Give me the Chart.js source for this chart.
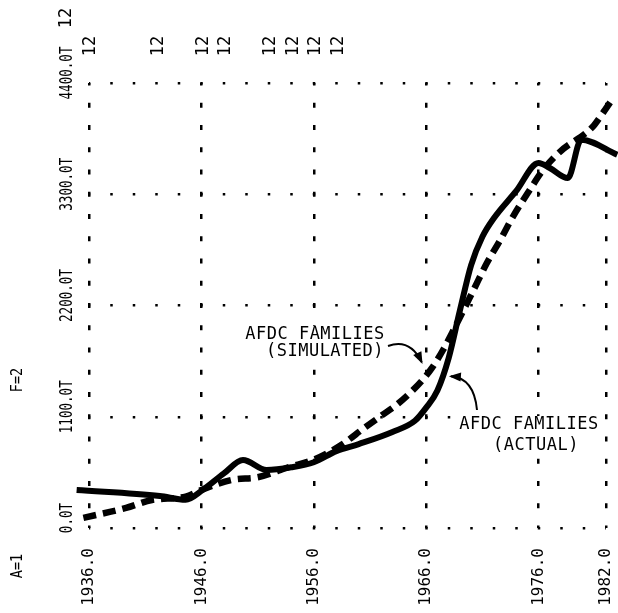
<!DOCTYPE html>
<html><head><meta charset="utf-8">
<script src="https://cdn.jsdelivr.net/npm/chart.js@4"></script>
<style>html,body{margin:0;padding:0;background:#fff}#wrap{width:618px;height:613px;position:relative}</style>
</head><body><div id="wrap"><canvas id="c"></canvas></div>
<script>
// ---- data ----
const xTickValues = [1936, 1946, 1956, 1966, 1976, 1982];
const yTickValues = [0, 1100, 2200, 3300, 4400];
const yTickLabels = ['0.0T', '1100.0T', '2200.0T', '3300.0T', '4400.0T'];

const actualYears  = [1934.9, 1942.3, 1944.6, 1946.1, 1948, 1949.7, 1951.8, 1954, 1956, 1958, 1960, 1963, 1965, 1966, 1967, 1968, 1969, 1970, 1971, 1972, 1974, 1976, 1977, 1978.6, 1979.8, 1983];
const actualValues = [375, 316, 280, 376, 540, 672, 573, 600, 650, 760, 830, 950, 1060, 1190, 1360, 1680, 2150, 2600, 2880, 3060, 3330, 3610, 3560, 3460, 3840, 3690];

const simYears  = [1935.5, 1939.3, 1941.6, 1944.6, 1946, 1948.7, 1951.1, 1953.8, 1955.9, 1958.3, 1960.5, 1962, 1963.5, 1964.7, 1965.8, 1966.5, 1967.5, 1968.4, 1970.2, 1971.4, 1972.6, 1973.7, 1975.2, 1976.4, 1977.9, 1980.8, 1981.7, 1982.5];
const simValues = [100, 198, 277, 310, 376, 475, 504, 603, 672, 810, 990, 1110, 1230, 1350, 1480, 1580, 1760, 1950, 2350, 2620, 2850, 3075, 3340, 3540, 3720, 3965, 4100, 4230];

const markerYears = [1936, 1942, 1946, 1948, 1952, 1954, 1956, 1958];
const markerLabel = '12';

const FONT = '"DejaVu Sans Mono", monospace';

function vtext(ctx, text, x, y, size, sx) {
  ctx.save();
  ctx.translate(x, y);
  ctx.rotate(-Math.PI / 2);
  ctx.scale(sx, 1);
  ctx.font = size + 'px ' + FONT;
  ctx.textAlign = 'center';
  ctx.textBaseline = 'middle';
  ctx.fillStyle = '#000';
  ctx.fillText(text, 0, 0);
  ctx.restore();
}

function arrow(ctx, x0, y0, cx, cy, x1, y1) {
  ctx.save();
  ctx.strokeStyle = '#000';
  ctx.fillStyle = '#000';
  ctx.lineWidth = 2;
  ctx.beginPath();
  ctx.moveTo(x0, y0);
  ctx.quadraticCurveTo(cx, cy, x1, y1);
  ctx.stroke();
  const a = Math.atan2(y1 - cy, x1 - cx);
  const L = 10, W = 4.5;
  ctx.beginPath();
  ctx.moveTo(x1 + Math.cos(a) * 2, y1 + Math.sin(a) * 2);
  ctx.lineTo(x1 - Math.cos(a) * L - Math.sin(a) * W, y1 - Math.sin(a) * L + Math.cos(a) * W);
  ctx.lineTo(x1 - Math.cos(a) * L + Math.sin(a) * W, y1 - Math.sin(a) * L - Math.cos(a) * W);
  ctx.closePath();
  ctx.fill();
  ctx.restore();
}

function label(ctx, text, x, y) {
  ctx.save();
  ctx.font = '17px ' + FONT;
  ctx.letterSpacing = '0.5px';
  const w = ctx.measureText(text).width;
  ctx.fillStyle = '#fff';
  ctx.fillRect(x - w / 2 - 2, y - 9, w + 4, 18);
  ctx.fillStyle = '#000';
  ctx.textAlign = 'center';
  ctx.textBaseline = 'middle';
  ctx.fillText(text, x, y);
  ctx.restore();
}

const bgPlugin = {
  id: 'bg',
  beforeDraw(chart) {
    const c = chart.ctx;
    c.save(); c.fillStyle = '#fff'; c.fillRect(0, 0, chart.width, chart.height); c.restore();
  },
  beforeDatasetsDraw(chart) {
    const ctx = chart.ctx;
    label(ctx, 'AFDC FAMILIES', 315, 335);
    label(ctx, '(SIMULATED)', 325, 352);
    label(ctx, 'AFDC FAMILIES', 529, 425);
    label(ctx, '(ACTUAL)', 536, 446);
  }
};

const textPlugin = {
  id: 'texts',
  afterDraw(chart) {
    const ctx = chart.ctx;
    const xs = chart.scales.x, ys = chart.scales.y;
    yTickValues.forEach((v, i) => {
      vtext(ctx, yTickLabels[i], 67, ys.getPixelForValue(v) - 10, 18.5, 0.68);
    });
    vtext(ctx, markerLabel, 67, 18, 17, 1);
    markerYears.forEach(yr => {
      vtext(ctx, markerLabel, xs.getPixelForValue(yr) + 2, 46, 17, 1);
    });
    vtext(ctx, 'F=2', 18, 380, 15, 0.9);
    vtext(ctx, 'A=1', 18, 566, 15, 0.9);

    const sx = xs.getPixelForValue(1965.6), sy = ys.getPixelForValue(1640);
    arrow(ctx, 388, 346, 410, 338, sx, sy);
    const ax = xs.getPixelForValue(1968.2), ay = ys.getPixelForValue(1500);
    arrow(ctx, 477, 410, 474, 378, ax, ay);
  }
};

const actualData = actualYears.map((x, i) => ({x, y: actualValues[i]}));
const simData = simYears.map((x, i) => ({x, y: simValues[i]}));

new Chart(document.getElementById('c'), {
  type: 'line',
  data: {
    datasets: [
      {
        label: 'AFDC FAMILIES (ACTUAL)',
        data: actualData,
        borderColor: '#000',
        borderWidth: 6,
        pointRadius: 0,
        cubicInterpolationMode: 'monotone',
        clip: false,
        fill: false
      },
      {
        label: 'AFDC FAMILIES (SIMULATED)',
        data: simData,
        borderColor: '#000',
        borderWidth: 6.5,
        borderDash: [13, 7],
        borderCapStyle: 'butt',
        pointRadius: 0,
        cubicInterpolationMode: 'monotone',
        clip: false,
        fill: false
      }
    ]
  },
  options: {
    responsive: true,
    maintainAspectRatio: false,
    animation: false,
    devicePixelRatio: 1,
    layout: { padding: { left: 0, right: 12, top: 83, bottom: 0 } },
    plugins: { legend: { display: false }, tooltip: { enabled: false } },
    scales: {
      x: {
        type: 'linear',
        min: 1936, max: 1982,
        afterBuildTicks: s => { s.ticks = xTickValues.map(v => ({value: v})); },
        afterFit: s => { s.height = 85; s.paddingLeft = 0; s.paddingRight = 0; },
        ticks: {
          autoSkip: false,
          minRotation: 90, maxRotation: 90,
          padding: 20,
          color: '#000',
          font: { family: FONT, size: 16 },
          callback: v => Number(v).toFixed(1)
        },
        grid: { color: '#000', lineWidth: 2.5, drawTicks: false },
        border: { display: false, dash: [5, 17.25], dashOffset: 2.5 }
      },
      y: {
        type: 'linear',
        min: 0, max: 4400,
        afterBuildTicks: s => { s.ticks = yTickValues.map(v => ({value: v})); },
        afterFit: s => { s.width = 89; s.paddingTop = 0; s.paddingBottom = 0; },
        ticks: { display: false },
        grid: { color: '#000', lineWidth: 2.5, drawTicks: false },
        border: { display: false, dash: [2.5, 20], dashOffset: 1.25 }
      }
    }
  },
  plugins: [bgPlugin, textPlugin]
});
</script>
</body></html>
